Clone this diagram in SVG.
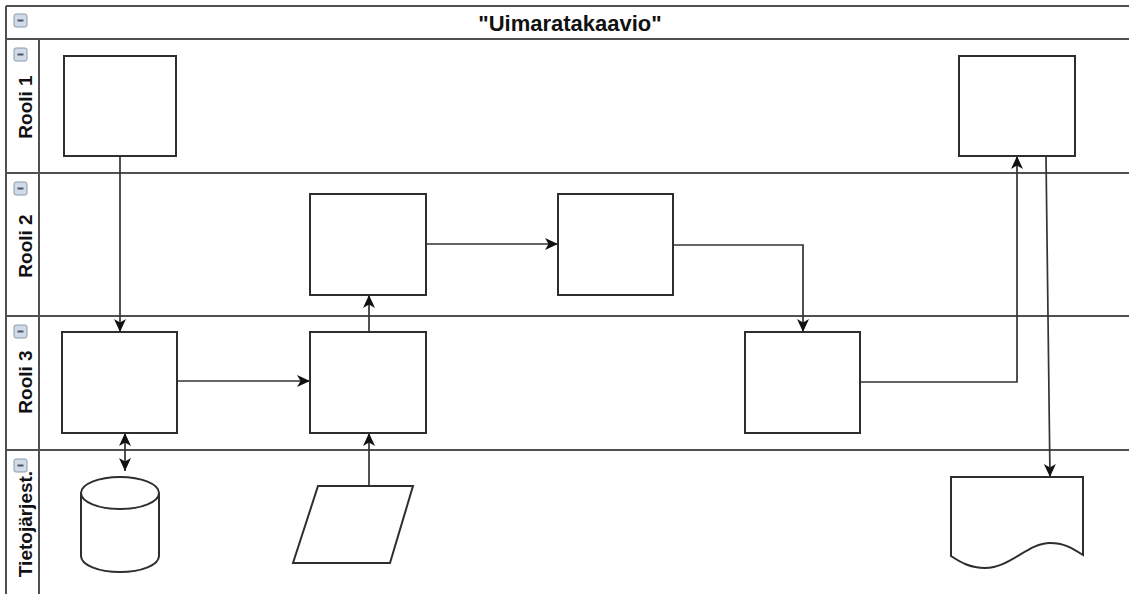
<svg xmlns="http://www.w3.org/2000/svg" width="1129" height="594" viewBox="0 0 1129 594">
  <style>
    .frame { fill: none; stroke: #505050; stroke-width: 2; }
    .node { fill: #fff; stroke: #2e2e2e; stroke-width: 2; }
    .edge { fill: none; stroke: #333; stroke-width: 1.7; }
    .title { font-family: "Liberation Sans", Arial, sans-serif; font-weight: bold; font-size: 22px; fill: #111; }
    .lane { font-family: "Liberation Sans", Arial, sans-serif; font-weight: bold; font-size: 19px; fill: #111; }
    .tog rect { fill: #cfdbe6; stroke: #8a9bab; stroke-width: 1; }
    .tog line { stroke: #4a5560; stroke-width: 2; }
  </style>
  <defs>
    <marker id="arrow" markerUnits="userSpaceOnUse" markerWidth="15" markerHeight="14" refX="13" refY="7" orient="auto">
      <path d="M0,1 L13,7 L0,13 L3.5,7 Z" fill="#111"/>
    </marker>
    <marker id="arrowStart" markerUnits="userSpaceOnUse" markerWidth="15" markerHeight="14" refX="0" refY="7" orient="auto">
      <path d="M13,1 L0,7 L13,13 L9.5,7 Z" fill="#111"/>
    </marker>
    <g id="toggle" class="tog">
      <rect x="0" y="0" width="13" height="13" rx="2"/>
      <line x1="3.5" y1="6.5" x2="9.5" y2="6.5"/>
    </g>
  </defs>

  <rect x="0" y="0" width="1129" height="594" fill="#fff"/>

  <!-- pool frame and swimlanes -->
  <g id="pool">
    <line class="frame" x1="6" y1="6" x2="1129" y2="6"/>
    <line class="frame" x1="6" y1="6" x2="6" y2="594"/>
    <line class="frame" x1="6" y1="39" x2="1129" y2="39"/>
    <line class="frame" x1="39" y1="39" x2="39" y2="594"/>
    <line class="frame" x1="6" y1="173" x2="1129" y2="173"/>
    <line class="frame" x1="6" y1="316" x2="1129" y2="316"/>
    <line class="frame" x1="6" y1="450" x2="1129" y2="450"/>

    <use href="#toggle" x="14" y="14"/>
    <text class="title" x="570" y="31" text-anchor="middle">"Uimaratakaavio"</text>

    <g id="lane-rooli1">
      <use href="#toggle" x="14" y="48"/>
      <text class="lane" transform="translate(32,107) rotate(-90)" text-anchor="middle">Rooli 1</text>
    </g>
    <g id="lane-rooli2">
      <use href="#toggle" x="14" y="182"/>
      <text class="lane" transform="translate(32,246) rotate(-90)" text-anchor="middle">Rooli 2</text>
    </g>
    <g id="lane-rooli3">
      <use href="#toggle" x="14" y="325"/>
      <text class="lane" transform="translate(32,382) rotate(-90)" text-anchor="middle">Rooli 3</text>
    </g>
    <g id="lane-tietojarjestelma">
      <use href="#toggle" x="14" y="459"/>
      <text class="lane" transform="translate(32,524) rotate(-90)" text-anchor="middle">Tietojärjest.</text>
    </g>
  </g>

  <!-- connectors -->
  <g id="connectors">
    <path class="edge" d="M120,156 V332" marker-end="url(#arrow)"/>
    <path class="edge" d="M177,381 H310" marker-end="url(#arrow)"/>
    <path class="edge" d="M369,332 V295" marker-end="url(#arrow)"/>
    <path class="edge" d="M426,244 H558" marker-end="url(#arrow)"/>
    <path class="edge" d="M673,245 H803 V332" marker-end="url(#arrow)"/>
    <path class="edge" d="M860,382 H1017 V156" marker-end="url(#arrow)"/>
    <path class="edge" d="M1046,156 L1050,477" marker-end="url(#arrow)"/>
    <path class="edge" d="M125,433 V471" marker-start="url(#arrowStart)" marker-end="url(#arrow)"/>
    <path class="edge" d="M369,486 V433" marker-end="url(#arrow)"/>
  </g>

  <!-- process steps -->
  <g id="step-r1-a"><rect class="node" x="64" y="56" width="112" height="100"/></g>
  <g id="step-r1-b"><rect class="node" x="959" y="56" width="116" height="100"/></g>
  <g id="step-r2-a"><rect class="node" x="310" y="194" width="116" height="101"/></g>
  <g id="step-r2-b"><rect class="node" x="558" y="194" width="115" height="101"/></g>
  <g id="step-r3-a"><rect class="node" x="62" y="332" width="115" height="101"/></g>
  <g id="step-r3-b"><rect class="node" x="310" y="332" width="116" height="101"/></g>
  <g id="step-r3-c"><rect class="node" x="745" y="332" width="115" height="101"/></g>

  <!-- information system symbols -->
  <g id="database">
    <path class="node" d="M81,493 V556 A39,16 0 0 0 159,556 V493"/>
    <ellipse class="node" cx="120" cy="493" rx="39" ry="16"/>
  </g>
  <g id="manual-input">
    <path class="node" d="M318,486 H413 L390,563 H293 Z"/>
  </g>
  <g id="document">
    <path class="node" d="M951,477 H1083 V555 C1072,548 1064,543 1050,543 C1028,543 1010,568 985,568 C970,568 960,562 951,556 Z"/>
  </g>
</svg>
